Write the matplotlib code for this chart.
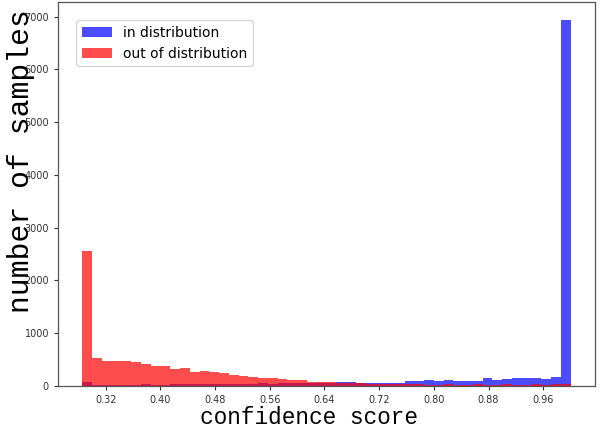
import numpy as np
import matplotlib
matplotlib.use("Agg")
import matplotlib.pyplot as plt

#
# Data (counts per bin)
#
score_min, score_max, n_bins = 0.286, 1.0, 50

in_dist = [63, 15, 18, 20, 18, 22, 28, 20, 22, 25,
           30, 28, 30, 32, 30, 35, 38, 40, 42, 40,
           44, 46, 48, 50, 52, 60, 63, 63, 60, 57,
           57, 57, 57, 82, 82, 101, 82, 101, 82, 82,
           95, 139, 101, 120, 151, 139, 139, 120, 158, 6930]

out_dist = [2548, 517, 473, 473, 473, 441, 404, 378, 372, 322,
            334, 259, 277, 265, 240, 208, 183, 170, 151, 139,
            120, 107, 107, 76, 76, 69, 44, 44, 44, 40,
            38, 38, 35, 25, 25, 22, 22, 24, 20, 22,
            24, 22, 20, 24, 22, 22, 24, 22, 24, 40]

xtick_vals = [0.32, 0.40, 0.48, 0.56, 0.64, 0.72, 0.80, 0.88, 0.96]
ytick_vals = [0, 1000, 2000, 3000, 4000, 5000, 6000, 7000]

edges = np.linspace(score_min, score_max, n_bins + 1)
centers = 0.5 * (edges[:-1] + edges[1:])

#
# Plot
#
fig = plt.figure(figsize=(6.08, 4.25), dpi=100)
ax = fig.add_axes([0.0954, 0.0925, 0.8832, 0.9025])

ax.hist(centers, bins=edges, weights=in_dist, color='b', alpha=0.7,
        label='in distribution')
ax.hist(centers, bins=edges, weights=out_dist, color='r', alpha=0.7,
        label='out of distribution')

ax.set_xticks(xtick_vals)
ax.set_xticklabels(['{:.2f}'.format(v) for v in xtick_vals])
ax.set_yticks(ytick_vals)
ax.tick_params(labelsize=7, colors='#333333', length=3, width=0.8)

for s in ax.spines.values():
    s.set_color('#555555')
    s.set_linewidth(0.9)

ax.set_xlabel('confidence score', family='Liberation Mono', fontsize=16.4,
              va='baseline')
ax.xaxis.set_label_coords(0.468, -0.099)
ax.set_ylabel('number of samples', family='Liberation Mono', fontsize=21.4,
              va='baseline')
ax.yaxis.set_label_coords(-0.054, 0.586)

ax.legend(loc='upper left', fontsize=10, borderaxespad=1.3,
          handlelength=2.2)

plt.savefig('out.png', dpi=100)
